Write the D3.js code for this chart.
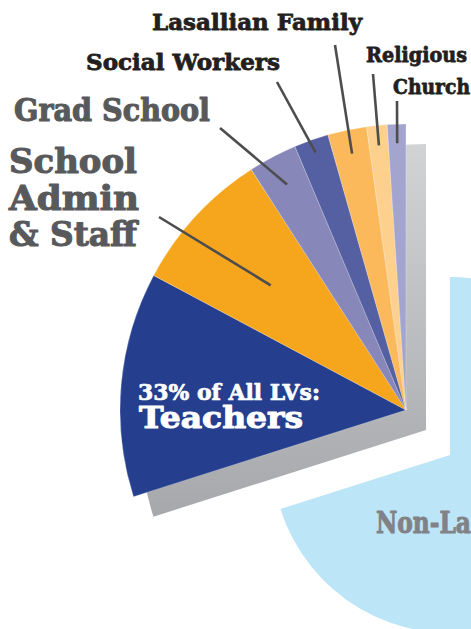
<!DOCTYPE html>
<html>
<head>
<meta charset="utf-8">
<script src="https://cdn.jsdelivr.net/npm/d3@7"></script>
<style>
  body { margin: 0; background: #fff; }
  svg { display: block; }
</style>
</head>
<body>
<div id="chart"></div>
<script>
// data (share of all volunteers, %)
const categories = ["Teachers", "School Admin & Staff", "Grad School", "Social Workers",
                    "Lasallian Family", "Religious", "Church", "Non-Lasallian Volunteers"];
const shares = [12.7, 8.1, 2.75, 1.95, 2.2, 1.15, 1.05, 70.1];
const isLV = [true, true, true, true, true, true, true, false];
const teacherNote = "33% of All LVs:";

const sliceColors = ["#253f8e", "#f6a61d", "#8787b9", "#5560a3", "#fbb95b", "#fdd08e", "#a3a5cf", "#bde5f8"];

function lv_pie() {
    const width = 471, height = 629;
    const lvCenter = [406, 410], lvRadius = 286;
    const otherCenter = [450, 455], otherRadius = 178;
    const shadowOffset = [20, 20];
    const font = "'DejaVu Serif', 'Liberation Serif', serif";

    const data = categories.map((c, i) => ({name: c, v: shares[i], lv: isLV[i], color: sliceColors[i]}));

    const lvTotal = d3.sum(data.filter(d => d.lv), d => d.v);
    const start = -2 * Math.PI * lvTotal / d3.sum(data, d => d.v);
    const pie = d3.pie().sort(null).value(d => d.v)
        .startAngle(start).endAngle(start + 2 * Math.PI);
    const arcs = pie(data);
    const lvArcs = arcs.filter(a => a.data.lv);
    const otherArcs = arcs.filter(a => !a.data.lv);

    const svg = d3.select("#chart").append("svg")
        .attr("width", width)
        .attr("height", height);

    // gradient in the shadow's own (translated) coordinates
    const grad = svg.append("defs").append("linearGradient")
        .attr("id", "shadowGrad")
        .attr("gradientUnits", "userSpaceOnUse")
        .attr("x1", 0).attr("y1", -lvRadius).attr("x2", 0).attr("y2", 95);
    grad.append("stop").attr("offset", 0).attr("stop-color", "#d2d3d5");
    grad.append("stop").attr("offset", 1).attr("stop-color", "#a5a7aa");

    // non-LV part, pulled apart
    const otherArc = d3.arc().innerRadius(0).outerRadius(otherRadius);
    svg.append("g")
        .attr("transform", `translate(${otherCenter[0]},${otherCenter[1]})`)
        .selectAll("path")
        .data(otherArcs)
        .join("path")
        .attr("d", otherArc)
        .attr("fill", d => d.data.color);

    // shadow behind the LV fan
    const lvArc = d3.arc().innerRadius(0).outerRadius(lvRadius);
    svg.append("path")
        .attr("transform", `translate(${lvCenter[0] + shadowOffset[0]},${lvCenter[1] + shadowOffset[1]})`)
        .attr("d", lvArc({startAngle: lvArcs[0].startAngle, endAngle: lvArcs[lvArcs.length - 1].endAngle}))
        .attr("fill", "url(#shadowGrad)");

    const lv_g = svg.append("g")
        .attr("transform", `translate(${lvCenter[0]},${lvCenter[1]})`);

    lv_g.selectAll("path")
        .data(lvArcs)
        .join("path")
        .attr("d", lvArc)
        .attr("fill", d => d.data.color)
        .attr("stroke", "#ffffff")
        .attr("stroke-opacity", 0.35)
        .attr("stroke-width", 0.7)
        .attr("stroke-linejoin", "round");

    // labels with leader lines
    const labels = [
        {i: 2, lines: ["Grad School"], x: 14, y: 121, size: 31, lens: [196], color: "#58595b", from: [220, 128], r: 255},
        {i: 1, lines: ["School", "Admin", "& Staff"], x: 9, y: 173, size: 34, lh: 36.5, lens: [128, 130, 128], color: "#58595b", from: [159, 217], r: 184},
        {i: 3, lines: ["Social Workers"], x: 86, y: 70, size: 23, lens: [194], color: "#231f20", from: [277, 82], r: 273},
        {i: 4, lines: ["Lasallian Family"], x: 152, y: 30, size: 23, lens: [210], color: "#231f20", from: [335, 45], r: 262},
        {i: 5, lines: ["Religious"], x: 366, y: 62, size: 21, lens: [101], color: "#231f20", from: [373, 74], r: 266},
        {i: 6, lines: ["Church"], x: 393, y: 94, size: 21, lens: [77], color: "#231f20", from: [397, 101], r: 267}
    ];

    // heavy slab look: fill plus a thin stroke of the same colour
    function heavy(sel, color, sw) {
        return sel.attr("font-family", font)
            .attr("font-weight", "bold")
            .attr("fill", color)
            .attr("stroke", color)
            .attr("stroke-width", sw)
            .attr("stroke-linejoin", "round");
    }

    labels.forEach(l => {
        const a = arcs[l.i];
        const mid = (a.startAngle + a.endAngle) / 2;
        svg.append("line")
            .attr("x1", l.from[0]).attr("y1", l.from[1])
            .attr("x2", lvCenter[0] + Math.sin(mid) * l.r)
            .attr("y2", lvCenter[1] - Math.cos(mid) * l.r)
            .attr("stroke", "#4d4d4f")
            .attr("stroke-width", 2.6);

        const words = l.i === 1 ? l.lines : [a.data.name];
        words.forEach((w, k) => {
            svg.append("text")
                .attr("x", l.x)
                .attr("y", l.y + k * (l.lh || 0))
                .attr("font-size", l.size + "px")
                .attr("textLength", l.lens[k])
                .attr("lengthAdjust", "spacingAndGlyphs")
                .call(heavy, l.color, l.size > 28 ? 1.1 : 0.8)
                .text(w);
        });
    });

    // teachers label inside the slice
    svg.append("text")
        .attr("x", 138).attr("y", 400)
        .attr("font-size", "22px")
        .attr("textLength", 182).attr("lengthAdjust", "spacingAndGlyphs")
        .call(heavy, "#ffffff", 0.7)
        .text(teacherNote);
    svg.append("text")
        .attr("x", 139).attr("y", 428)
        .attr("font-size", "29px")
        .attr("textLength", 164).attr("lengthAdjust", "spacingAndGlyphs")
        .call(heavy, "#ffffff", 1)
        .text(arcs[0].data.name);

    // non-LV label (runs off the page)
    const other = svg.append("text")
        .attr("x", 0).attr("y", 0)
        .attr("font-size", "29px")
        .call(heavy, "#808285", 1)
        .text(otherArcs[0].data.name);
    const part = other.node().getSubStringLength(0, 6);
    other.attr("transform", `translate(376,533) scale(${95 / part},1)`);

    return svg.node();
}

lv_pie();
</script>
</body>
</html>
